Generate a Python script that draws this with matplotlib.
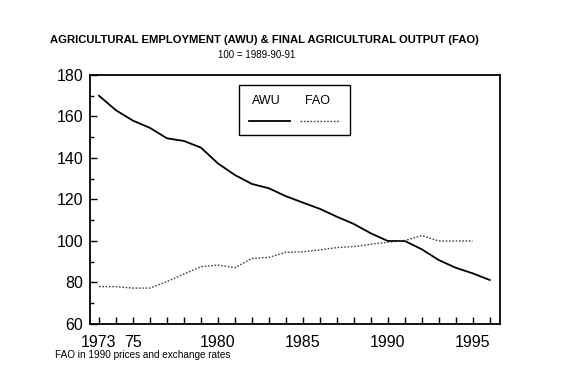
import matplotlib
matplotlib.use("Agg")
import matplotlib.pyplot as plt
from matplotlib.patches import Rectangle
from matplotlib.lines import Line2D

plt.rcParams["font.family"] = ["Liberation Sans", "DejaVu Sans"]

# Indices, 100 = 1989-90-91
years = list(range(1973, 1997))
awu = [170, 163, 158, 154.5, 149.5, 148.2, 145, 137.4, 131.8, 127.5, 125.4, 121.6,
       118.5, 115.5, 111.7, 108.2, 103.7, 100, 100, 96, 90.8, 87.1, 84.4, 81.2]
fao_years = list(range(1973, 1996))
fao = [78, 78, 77.3, 77.3, 80.4, 84.1, 87.6, 88.4, 87.1, 91.6, 92.1, 94.5,
       94.8, 95.7, 96.8, 97.3, 98.4, 99.4, 100.2, 102.6, 100, 100, 100]

xtick_pos = [1973, 1975, 1980, 1985, 1990, 1995]
xtick_lbl = ["1973", "75", "1980", "1985", "1990", "1995"]

fig = plt.figure(figsize=(5.72, 3.84), dpi=100)
ax = fig.add_axes([0.1573, 0.1563, 0.7167, 0.6484])

ax.plot(years, awu, color="black", lw=1.3)
ax.plot(fao_years, fao, color="#444444", lw=1.0, linestyle=(0, (1.2, 1.2)))

ax.set_xlim(1972.47, 1996.6)
ax.set_ylim(60, 180)

ax.set_xticks(years, minor=True)
ax.set_xticks(xtick_pos)
ax.set_xticklabels(xtick_lbl)
ax.set_yticks(range(60, 181, 20))
ax.set_yticks(range(60, 181, 10), minor=True)

ax.tick_params(axis="x", which="both", direction="in", length=5, width=1,
               labelsize=11.5, pad=8, top=False)
ax.tick_params(axis="y", which="major", direction="in", length=5, width=1,
               labelsize=11.5, pad=5, right=False)
ax.tick_params(axis="y", which="minor", direction="in", length=3, width=1, right=False)
for s in ax.spines.values():
    s.set_linewidth(1.3)

# boxed key with labels above the line samples
ax.add_patch(Rectangle((0.364, 0.758), 0.271, 0.201, transform=ax.transAxes,
                       fill=False, edgecolor="black", lw=1.0))
ax.text(0.430, 0.895, "AWU", transform=ax.transAxes, ha="center", va="center", fontsize=9)
ax.text(0.556, 0.895, "FAO", transform=ax.transAxes, ha="center", va="center", fontsize=9)
ax.add_line(Line2D([0.387, 0.488], [0.815, 0.815], transform=ax.transAxes,
                   color="black", lw=1.3))
ax.add_line(Line2D([0.512, 0.610], [0.815, 0.815], transform=ax.transAxes,
                   color="#444444", lw=1.0, linestyle=(0, (1.2, 1.2))))

fig.text(0.463, 0.895, "AGRICULTURAL EMPLOYMENT (AWU) & FINAL AGRICULTURAL OUTPUT (FAO)",
         ha="center", va="center", fontsize=8.1, fontweight="bold")
fig.text(0.449, 0.857, "100 = 1989-90-91", ha="center", va="center", fontsize=7)
fig.text(0.096, 0.075, "FAO in 1990 prices and exchange rates", ha="left", va="center",
         fontsize=7.2)

fig.savefig("out.png", dpi=100)
